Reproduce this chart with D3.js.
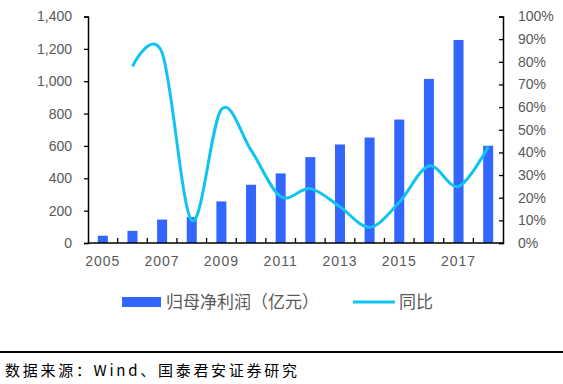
<!DOCTYPE html>
<html>
<head>
<meta charset="utf-8">
<script src="https://cdn.jsdelivr.net/npm/d3@7"></script>
<style>
  body { margin: 0; background: #fff; }
  svg { display: block; }
  .tick text { font-family: "Liberation Sans", Arial, sans-serif; font-size: 14px; fill: #595959; }
</style>
</head>
<body>
<div id="chart"></div>
<script>
var years = [2005, 2006, 2007, 2008, 2009, 2010, 2011, 2012, 2013, 2014, 2015, 2016, 2017, 2018]
var profit = [45, 75, 145, 160, 257, 360, 430, 531, 609, 652, 763, 1014, 1255, 601]
var yoy = [null, 0.78, 0.84, 0.10, 0.59, 0.41, 0.205, 0.24, 0.16, 0.07, 0.18, 0.34, 0.25, 0.425]
var leftTicks = [0, 200, 400, 600, 800, 1000, 1200, 1400]
var rightTicks = [0, 0.1, 0.2, 0.3, 0.4, 0.5, 0.6, 0.7, 0.8, 0.9, 1.0]
var xLabels = [2005, 2007, 2009, 2011, 2013, 2015, 2017]
var legendNames = ["归母净利润（亿元）", "同比"]
var sourceText = "数据来源：Wind、国泰君安证券研究"

var W = 563, H = 384
var margin = {top: 16.5, right: 60, bottom: 141, left: 88}
var width = W - margin.left - margin.right
var height = H - margin.top - margin.bottom

var barColor = "#3366ff", lineColor = "#0fc4f2"

var svg = d3.select("#chart").append("svg")
    .attr("width", W)
    .attr("height", H)

var g = svg.append("g")
    .attr("transform", "translate(" + margin.left + "," + margin.top + ")")

var xb = d3.scaleBand().domain(years).range([0, width])

var y = d3.scaleLinear().domain([0, 1400]).range([height, 0])
var y2 = d3.scaleLinear().domain([0, 1]).range([height, 0])

// bars
g.selectAll("rect.bar")
    .data(profit)
    .enter().append("rect")
    .attr("class", "bar")
    .attr("x", function(d, i) { return xb(years[i]) + xb.bandwidth() / 2 - 5 })
    .attr("width", 10)
    .attr("y", function(d) { return y(d) })
    .attr("height", function(d) { return height - y(d) })
    .attr("fill", barColor)

// yoy line
var line = d3.line()
    .defined(function(d) { return d != null })
    .x(function(d, i) { return xb(years[i]) + xb.bandwidth() / 2 })
    .y(function(d) { return y2(d) })
    .curve(d3.curveCardinal.tension(0))

g.append("path")
    .datum(yoy)
    .attr("d", line)
    .attr("fill", "none")
    .attr("stroke", lineColor)
    .attr("stroke-width", 3)

// left axis
var leftAxis = g.append("g")
    .call(d3.axisLeft(y).tickValues(leftTicks).tickFormat(d3.format(",")).tickSize(4).tickPadding(12))
leftAxis.select(".domain").attr("stroke", "#000").attr("stroke-width", 1.5)
leftAxis.selectAll(".tick line").attr("stroke", "#000").attr("stroke-width", 1.3)

// right axis
var rightAxis = g.append("g")
    .attr("transform", "translate(" + width + ",0)")
    .call(d3.axisRight(y2).tickValues(rightTicks).tickFormat(d3.format(".0%")).tickSize(-4).tickPadding(15))
rightAxis.select(".domain").attr("stroke", "#000").attr("stroke-width", 1.5)
rightAxis.selectAll(".tick line").attr("stroke", "#000").attr("stroke-width", 1.3)

// bottom axis line + ticks between categories
var bottom = g.append("g").attr("transform", "translate(0," + height + ")")
bottom.append("line")
    .attr("x1", 0).attr("x2", width)
    .attr("stroke", "#000").attr("stroke-width", 1.5)
bottom.selectAll("line.sep")
    .data(years.slice(1))
    .enter().append("line")
    .attr("class", "sep")
    .attr("x1", function(d) { return xb(d) })
    .attr("x2", function(d) { return xb(d) })
    .attr("y1", 0).attr("y2", -5)
    .attr("stroke", "#000").attr("stroke-width", 1.3)
bottom.selectAll("text")
    .data(xLabels)
    .enter().append("text")
    .attr("x", function(d) { return xb(d) + xb.bandwidth() / 2 })
    .attr("y", 23)
    .attr("text-anchor", "middle")
    .style("font-family", "Liberation Sans, Arial, sans-serif")
    .style("font-size", "14px")
    .style("letter-spacing", "1px")
    .style("fill", "#595959")
    .text(function(d) { return d })

// legend
var leg = svg.append("g")
leg.append("rect")
    .attr("x", 122).attr("y", 297)
    .attr("width", 39).attr("height", 10)
    .attr("fill", barColor)
leg.append("text")
    .attr("x", 166).attr("y", 308)
    .style("font-family", "Noto Sans CJK SC, sans-serif")
    .style("font-size", "17px")
    .style("fill", "#595959")
    .text(legendNames[0])
leg.append("line")
    .attr("x1", 353).attr("x2", 395)
    .attr("y1", 302).attr("y2", 302)
    .attr("stroke", lineColor).attr("stroke-width", 3)
leg.append("text")
    .attr("x", 399).attr("y", 308)
    .style("font-family", "Noto Sans CJK SC, sans-serif")
    .style("font-size", "17px")
    .style("fill", "#595959")
    .text(legendNames[1])

// source line
svg.append("line")
    .attr("x1", 0).attr("x2", W)
    .attr("y1", 352).attr("y2", 352)
    .attr("stroke", "#000").attr("stroke-width", 2)
svg.append("text")
    .attr("x", 5).attr("y", 376)
    .attr("textLength", 292)
    .attr("lengthAdjust", "spacing")
    .style("font-family", "Noto Sans CJK SC, sans-serif")
    .style("font-size", "15px")
    .style("fill", "#000")
    .text(sourceText)
</script>
</body>
</html>
